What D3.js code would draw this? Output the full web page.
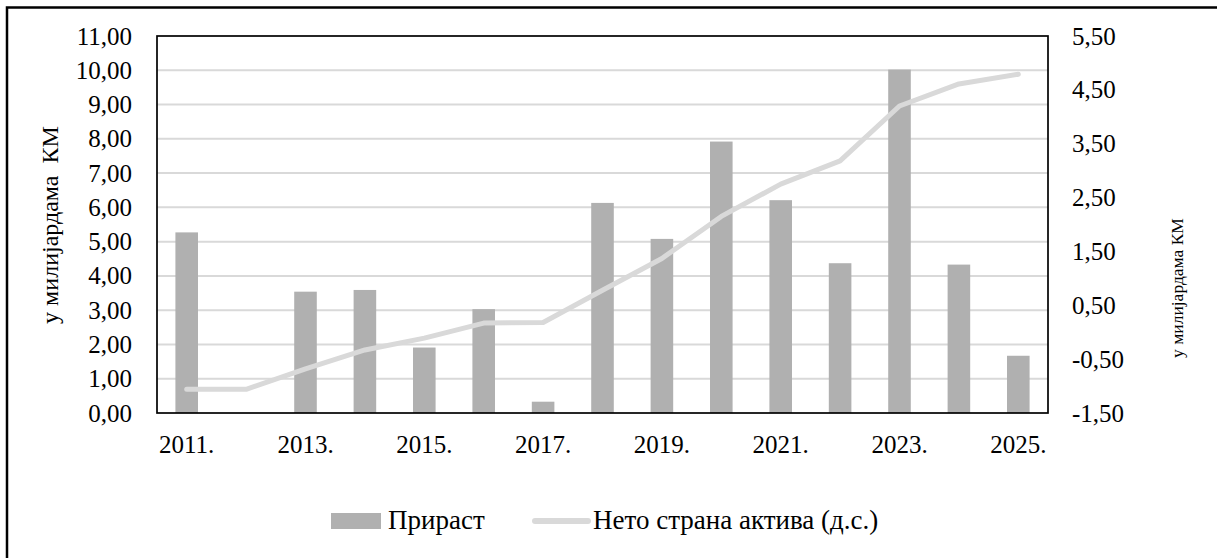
<!DOCTYPE html>
<html><head><meta charset="utf-8">
<script src="https://cdn.jsdelivr.net/npm/d3@7"></script>
<style>
html,body{margin:0;padding:0;background:#fff;}
svg{display:block;}
</style></head>
<body>
<svg id="chart" width="1217" height="558"></svg>
<script>
const years = ["2011.","2012.","2013.","2014.","2015.","2016.","2017.","2018.","2019.","2020.","2021.","2022.","2023.","2024.","2025."];
const xTickLabels = ["2011.","2013.","2015.","2017.","2019.","2021.","2023.","2025."];
const prirast = [5.27, 0, 3.54, 3.59, 1.91, 3.03, 0.33, 6.13, 5.08, 7.92, 6.21, 4.37, 10.02, 4.33, 1.67];
const netoAktiva = [-1.06, -1.06, -0.68, -0.33, -0.11, 0.17, 0.18, 0.78, 1.37, 2.15, 2.75, 3.18, 4.20, 4.61, 4.79];
const leftTicks = [0,1,2,3,4,5,6,7,8,9,10,11];
const rightTicks = [-1.5,-0.5,0.5,1.5,2.5,3.5,4.5,5.5];
const seriesNames = ["Прираст","Нето страна актива (д.с.)"];
const leftTitle = "у милијардама  КМ";
const rightTitle = "у милијардама КМ";

const FONT = '"Liberation Serif", serif';
const svg = d3.select("#chart").attr("font-family", FONT);
const plot = {left:157, right:1048, top:36, bottom:413};

// outer frame (top and left edges visible)
svg.append("rect").attr("x",7).attr("y",7.5).attr("width",1400).attr("height",800)
  .attr("fill","none").attr("stroke","#000").attr("stroke-width",2.5);

const x = d3.scaleBand().domain(years).range([plot.left, plot.right]).paddingInner(0.62).paddingOuter(0.31);
const yL = d3.scaleLinear().domain([0,11]).range([plot.bottom, plot.top]);
const yR = d3.scaleLinear().domain([-1.5,5.5]).range([plot.bottom, plot.top]);
const fmt = d => d3.format(".2f")(d).replace(".", ",").replace("−","-");

// gridlines
svg.append("g").selectAll("line").data(leftTicks.filter(d=>d>0 && d<11)).join("line")
  .attr("x1",plot.left).attr("x2",plot.right)
  .attr("y1",d=>yL(d)).attr("y2",d=>yL(d))
  .attr("stroke","#d9d9d9").attr("stroke-width",2);

// bars
svg.append("g").selectAll("rect").data(years.map((y,i)=>({y, v:prirast[i]}))).join("rect")
  .attr("x",d=>x(d.y)).attr("width",x.bandwidth())
  .attr("y",d=>yL(d.v)).attr("height",d=>yL(0)-yL(d.v))
  .attr("fill","#b0b0b0");

// line
const line = d3.line().x((d,i)=>x(years[i])+x.bandwidth()/2).y(d=>yR(d));
svg.append("path").datum(netoAktiva).attr("d",line)
  .attr("fill","none").attr("stroke","#d9d9d9").attr("stroke-width",5)
  .attr("stroke-linecap","round").attr("stroke-linejoin","round");

// plot border
svg.append("rect").attr("x",plot.left).attr("y",plot.top)
  .attr("width",plot.right-plot.left).attr("height",plot.bottom-plot.top)
  .attr("fill","none").attr("stroke","#000").attr("stroke-width",1.7);

function styleAxis(g){
  g.attr("font-family",FONT).attr("font-size",25);
  g.select(".domain").remove();
  g.selectAll("text").attr("font-family",FONT).attr("font-size",25).attr("fill","#000");
}
// left axis
svg.append("g").attr("transform",`translate(${plot.left},0)`)
  .call(d3.axisLeft(yL).tickValues(leftTicks).tickFormat(fmt).tickSize(0).tickPadding(25))
  .call(styleAxis);
// right axis
svg.append("g").attr("transform",`translate(${plot.right},0)`)
  .call(d3.axisRight(yR).tickValues(rightTicks).tickFormat(fmt).tickSize(0).tickPadding(24))
  .call(styleAxis);
// bottom axis
svg.append("g").attr("transform",`translate(0,${plot.bottom})`)
  .call(d3.axisBottom(x).tickValues(xTickLabels).tickSize(0).tickPadding(22))
  .call(styleAxis);

// axis titles
svg.append("text").attr("transform","translate(58,225) rotate(-90)")
  .attr("text-anchor","middle").attr("font-family",FONT).attr("font-size",24)
  .attr("xml:space","preserve").style("white-space","pre")
  .attr("fill","#000").text(leftTitle);
svg.append("text").attr("transform","translate(1183,288) rotate(-90)")
  .attr("text-anchor","middle").attr("font-family",FONT).attr("font-size",17.5)
  .attr("fill","#000").text(rightTitle);

// legend
const lg = svg.append("g").attr("font-family",FONT).attr("font-size",27);
lg.append("rect").attr("x",331).attr("y",513).attr("width",50).attr("height",16).attr("fill","#b0b0b0");
lg.append("text").attr("x",388).attr("y",529).attr("font-family",FONT).attr("font-size",27).attr("fill","#000").text(seriesNames[0]);
lg.append("line").attr("x1",535).attr("x2",588).attr("y1",521).attr("y2",521)
  .attr("stroke","#d9d9d9").attr("stroke-width",6).attr("stroke-linecap","round");
lg.append("text").attr("x",593).attr("y",529).attr("font-family",FONT).attr("font-size",27).attr("fill","#000").text(seriesNames[1]);
</script>
</body></html>
